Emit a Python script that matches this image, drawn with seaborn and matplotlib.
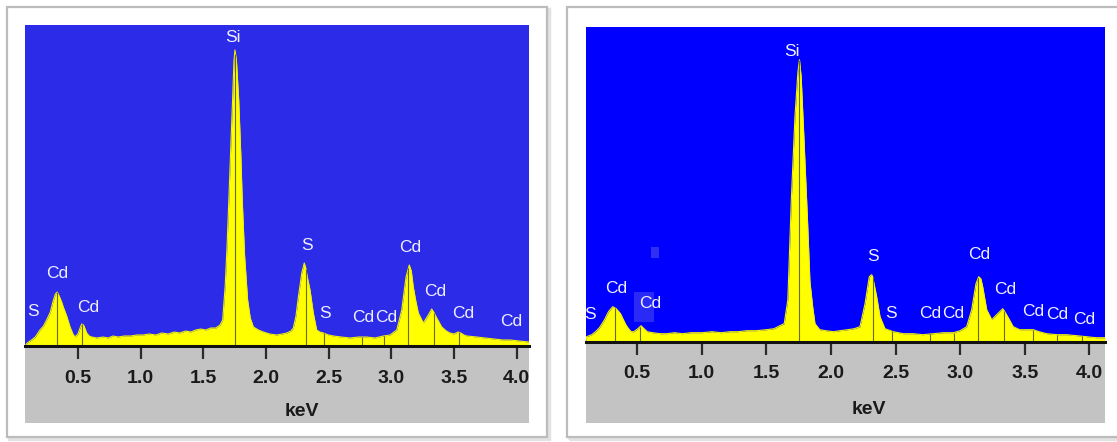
import matplotlib
matplotlib.use("Agg")
import matplotlib.pyplot as plt
from matplotlib.patches import Rectangle
import numpy as np
import pandas as pd
import seaborn as sns

# ---------------- data ----------------
# left spectrum: energy (keV) and counts (arbitrary units)
left_kev = [0.08, 0.095, 0.13, 0.16, 0.197, 0.225, 0.25, 0.28, 0.30, 0.32, 0.335, 0.35, 0.37, 0.383,
            0.41, 0.437, 0.46, 0.476, 0.50, 0.52, 0.53, 0.545, 0.57, 0.59, 0.61, 0.65, 0.70, 0.74,
            0.78, 0.82, 0.87, 0.92, 0.97, 1.02, 1.07, 1.12, 1.17, 1.22, 1.27, 1.31, 1.36, 1.40,
            1.44, 1.48, 1.52, 1.56, 1.60, 1.634, 1.655, 1.675, 1.69, 1.705, 1.72, 1.734, 1.745,
            1.753, 1.765, 1.783, 1.80, 1.811, 1.83, 1.854, 1.875, 1.90, 1.94, 1.98, 2.03, 2.086,
            2.13, 2.166, 2.20, 2.219, 2.24, 2.259, 2.286, 2.306, 2.318, 2.330, 2.352, 2.378, 2.405,
            2.43, 2.458, 2.50, 2.538, 2.60, 2.671, 2.74, 2.804, 2.87, 2.937, 2.99, 3.044, 3.084,
            3.118, 3.144, 3.16, 3.176, 3.196, 3.216, 3.256, 3.296, 3.323, 3.343, 3.363, 3.403,
            3.44, 3.469, 3.50, 3.535, 3.555, 3.58, 3.603, 3.682, 3.75, 3.82, 3.89, 3.95, 4.02, 4.097]
left_counts = [0, 3, 6, 9, 16, 20, 26, 34, 44, 52, 54, 50, 44, 39,
               30, 19, 12, 9, 12, 19, 22, 21, 13, 10, 9, 8, 9, 8,
               10, 9, 10, 10, 11, 11, 12, 11, 13, 12, 14, 13, 15, 14,
               16, 17, 16, 18, 18, 21, 26, 60, 100, 149, 200, 246, 285,
               296, 285, 246, 190, 146, 90, 46, 28, 19, 16, 14, 12, 11,
               12, 13, 15, 18, 30, 49, 73, 83, 78, 69, 56, 33, 16,
               14, 13, 11, 10, 9, 8, 9, 9, 8, 10, 11, 16, 36,
               69, 81, 75, 59, 45, 33, 23, 31, 37, 33, 28, 19,
               15, 13, 12, 14, 13, 11, 10, 9, 8, 7, 6, 6, 5, 4]

# right spectrum
right_kev = [0.106, 0.111, 0.15, 0.18, 0.21, 0.249, 0.28, 0.312, 0.34, 0.373, 0.395, 0.414, 0.435,
             0.455, 0.475, 0.497, 0.515, 0.532, 0.555, 0.579, 0.62, 0.68, 0.731, 0.79, 0.85, 0.92,
             1.005, 1.08, 1.15, 1.22, 1.281, 1.35, 1.42, 1.501, 1.56, 1.605, 1.639, 1.667, 1.694,
             1.722, 1.745, 1.757, 1.77, 1.79, 1.818, 1.838, 1.859, 1.877, 1.914, 1.96, 2.02, 2.07,
             2.13, 2.18, 2.225, 2.264, 2.297, 2.315, 2.323, 2.354, 2.380, 2.418, 2.483, 2.56, 2.637,
             2.71, 2.792, 2.87, 2.947, 3.00, 3.05, 3.089, 3.122, 3.143, 3.16, 3.174, 3.205, 3.244,
             3.282, 3.329, 3.345, 3.372, 3.41, 3.46, 3.514, 3.565, 3.61, 3.669, 3.75, 3.824, 3.90,
             3.978, 4.05, 4.12]
right_counts = [0, 5, 7, 10, 14, 22, 30, 35, 33, 28, 22, 17, 13,
                10, 10, 12, 14, 16, 13, 10, 9, 8, 8, 9, 8, 9,
                9, 10, 9, 10, 10, 11, 11, 12, 13, 16, 18, 42, 142,
                225, 270, 282, 265, 208, 125, 60, 35, 18, 12, 11, 10, 11,
                12, 13, 15, 38, 65, 67, 65, 45, 25, 13, 10, 8, 8,
                7, 8, 9, 9, 11, 15, 32, 58, 65, 63, 55, 32, 22,
                27, 33, 30, 24, 15, 12, 12, 12, 10, 8, 7, 7, 6,
                5, 4, 4]

# element marker lines (keV)
left_lines = [0.335, 0.53, 1.75, 2.32, 2.464, 2.765, 2.943, 3.137, 3.344, 3.543]
right_lines = [0.33, 0.52, 1.757, 2.323, 2.47, 2.766, 2.952, 3.14, 3.339, 3.565, 3.746, 3.94]

# peak labels: text, x (keV), y (counts)
left_label_text = ["S", "Cd", "Cd", "Si", "S", "S", "Cd", "Cd", "Cd", "Cd", "Cd", "Cd"]
left_label_x = [0.141, 0.336, 0.58, 1.734, 2.328, 2.472, 2.775, 2.963, 3.15, 3.35, 3.573, 3.96]
left_label_y = [34, 73, 38, 309, 100, 33, 28, 28, 99, 55, 33, 24]

right_label_text = ["S", "Cd", "Cd", "Si", "S", "S", "Cd", "Cd", "Cd", "Cd", "Cd", "Cd", "Cd"]
right_label_x = [0.137, 0.338, 0.606, 1.702, 2.322, 2.465, 2.766, 2.947, 3.147, 3.345, 3.565, 3.753, 3.956]
right_label_y = [27, 53, 38, 290, 85, 28, 28, 28, 87, 52, 30, 27, 22]

tick_values = [0.5, 1.0, 1.5, 2.0, 2.5, 3.0, 3.5, 4.0]
tick_labels = ["0.5", "1.0", "1.5", "2.0", "2.5", "3.0", "3.5", "4.0"]
x_label = "keV"

# ---------------- style ----------------
sns.set_theme(style="white")
plt.rcParams['font.family'] = ['Liberation Sans', 'DejaVu Sans']

W, H = 1117, 442
fig = plt.figure(figsize=(W / 100, H / 100), dpi=100)
fig.patch.set_facecolor("white")


def fx(px):
    return px / W


def fy(py):
    return 1 - py / H


def frect(x0, y0, x1, y1, **kw):
    r = Rectangle((fx(x0), fy(y1)), fx(x1) - fx(x0), fy(y0) - fy(y1),
                  transform=fig.transFigure, **kw)
    fig.patches.append(r)
    return r


# outer frames with faint shadow
frect(9, 9, 549, 439, facecolor="none", edgecolor="#e2e2e2", lw=2.5, zorder=0)
frect(7, 7, 547, 437, facecolor="white", edgecolor="#bcbcbc", lw=1.6, zorder=0)
frect(569, 9, 1125, 439, facecolor="none", edgecolor="#e2e2e2", lw=2.5, zorder=0)
frect(567, 7, 1125, 437, facecolor="white", edgecolor="#bcbcbc", lw=1.6, zorder=0)

# grey strips under the plots
frect(25.3, 346, 528.7, 423, facecolor="#c3c3c3", edgecolor="none", zorder=1)
frect(586, 341.7, 1105, 423.3, facecolor="#c3c3c3", edgecolor="none", zorder=1)

panels = [
    dict(box=(25.3, 25, 528.7, 346), bg="#2b2be8", kev=left_kev, cnt=left_counts,
         xlim=(0.08, 4.097), ylim=(0, 321), lines=left_lines,
         lt=left_label_text, lx=left_label_x, ly=left_label_y, xl=(301.5, 412)),
    dict(box=(586, 26.7, 1105, 341.7), bg="#0000fe", kev=right_kev, cnt=right_counts,
         xlim=(0.106, 4.12), ylim=(0, 315), lines=right_lines,
         lt=right_label_text, lx=right_label_x, ly=right_label_y, xl=(869, 410)),
]

for i, p in enumerate(panels):
    x0, y0, x1, y1 = p["box"]
    ax = fig.add_axes([fx(x0), fy(y1), fx(x1) - fx(x0), fy(y0) - fy(y1)], zorder=2)
    ax.set_facecolor(p["bg"])
    df = pd.DataFrame({"keV": p["kev"], "counts": p["cnt"]})
    ax.fill_between(df["keV"], 0, df["counts"], color="#ffff00", lw=0, zorder=2)
    sns.lineplot(data=df, x="keV", y="counts", ax=ax, color="#f2f200", lw=0.8,
                 sort=False, zorder=3)
    heights = np.interp(p["lines"], df["keV"], df["counts"])
    ax.vlines(p["lines"], 0, heights, color="#6a6a20", lw=0.8, zorder=4)
    for t, lx, ly in zip(p["lt"], p["lx"], p["ly"]):
        ax.text(lx, ly, t, color="#f0f0ff", fontsize=12.5, ha="center", va="center",
                zorder=5)
    if i == 1:
        # pale artefact boxes visible in the right spectrum image
        ax.add_patch(Rectangle((0.48, 20), 0.155, 30, transform=ax.transData,
                               facecolor="#2a2af6", edgecolor="none", zorder=1))
        ax.add_patch(Rectangle((0.61, 84), 0.06, 11, transform=ax.transData,
                               facecolor="#3030f4", edgecolor="none", zorder=1))
    ax.set_xlim(*p["xlim"])
    ax.set_ylim(*p["ylim"])
    ax.set_xticks(tick_values)
    ax.set_xticklabels(tick_labels, fontweight="bold")
    ax.set_yticks([])
    ax.set_xlabel("")
    ax.set_ylabel("")
    ax.tick_params(axis="x", direction="out", length=9, width=1.6, colors="#2a2a2a",
                   labelsize=14, pad=8, labelcolor="#1a1a1a", bottom=True)
    for s in ["left", "top", "right"]:
        ax.spines[s].set_visible(False)
    ax.spines["bottom"].set_color("#111111")
    ax.spines["bottom"].set_linewidth(2.2)
    ax.spines["bottom"].set_zorder(6)
    fig.text(fx(p["xl"][0]), fy(p["xl"][1]), x_label, fontsize=14, fontweight="bold",
             ha="center", va="center", color="#1a1a1a")

fig.savefig("out.png", dpi=100, facecolor="white")
